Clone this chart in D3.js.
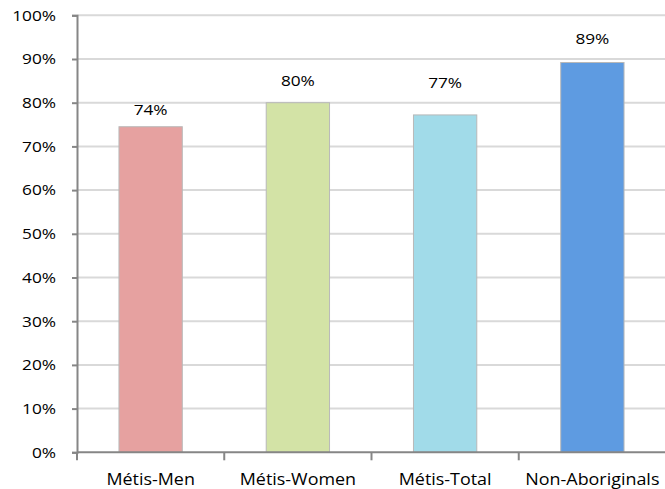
<!DOCTYPE html>
<html>
<head>
<meta charset="utf-8">
<script src="https://cdn.jsdelivr.net/npm/d3@7"></script>
<style>
  body { margin: 0; background: #fff; }
  svg { display: block; }
</style>
</head>
<body>
<div id="chart"></div>
<script>
// data
var categories = ["Métis-Men", "Métis-Women", "Métis-Total", "Non-Aboriginals"];
var values = [0.745, 0.80, 0.772, 0.892];
var valueLabels = ["74%", "80%", "77%", "89%"];
var yTicks = [0, 0.1, 0.2, 0.3, 0.4, 0.5, 0.6, 0.7, 0.8, 0.9, 1.0];
var barColors = ["#e6a1a0", "#d3e3a6", "#a1dbe9", "#5e9be1"];

// label lift above each bar (labels sit unevenly in the original)
var labelGap = [12, 17, 27, 18];

const chart = { width: 665, height: 489 };
const plot = { left: 77, right: 666, top: 15.3, bottom: 452.3 };

const svg = d3.select("#chart").append("svg")
    .attr("width", chart.width).attr("height", chart.height);

const x = d3.scaleBand()
    .domain(categories)
    .range([plot.left, plot.right])
    .paddingInner(0.57).paddingOuter(0.285);

const xEdges = d3.scaleBand().domain(categories).range([plot.left, plot.right]);

const y = d3.scaleLinear().domain([0, 1]).range([plot.bottom, plot.top]);

const font = "'Open Sans', 'Noto Sans', sans-serif";

// gridlines
svg.append("g")
    .selectAll("line").data(yTicks.slice(1)).enter().append("line")
    .attr("x1", plot.left).attr("x2", plot.right)
    .attr("y1", d => y(d)).attr("y2", d => y(d))
    .attr("stroke", "#d9d9d9").attr("stroke-width", 2);

// bars
svg.append("g")
    .selectAll("rect").data(values).enter().append("rect")
    .attr("x", (d, i) => x(categories[i]))
    .attr("y", d => y(d))
    .attr("width", x.bandwidth())
    .attr("height", d => plot.bottom - y(d))
    .attr("fill", (d, i) => barColors[i])
    .attr("stroke", "#b8b8b8").attr("stroke-width", 1);

// y axis
const yAxis = d3.axisLeft(y).tickValues(yTicks).tickSize(5)
    .tickFormat(d3.format(".0%"));
const yg = svg.append("g").attr("transform", "translate(" + plot.left + ",0)").call(yAxis);
yg.select(".domain").attr("stroke", "#868686").attr("stroke-width", 2);
yg.selectAll(".tick line").attr("stroke", "#868686").attr("stroke-width", 2);
yg.selectAll("text")
    .style("font-family", font).style("font-size", "15px").attr("fill", "#000")
    .attr("transform", "scale(1.15,1)")
    .attr("x", -21 / 1.15);

// x axis: ticks at band edges
const edges = categories.map(c => xEdges(c)).concat([plot.right]);
const xg = svg.append("g");
xg.append("line")
    .attr("x1", plot.left).attr("x2", plot.right)
    .attr("y1", plot.bottom).attr("y2", plot.bottom)
    .attr("stroke", "#868686").attr("stroke-width", 2);
xg.selectAll(".edge").data(edges).enter().append("line")
    .attr("class", "edge")
    .attr("x1", d => d).attr("x2", d => d)
    .attr("y1", plot.bottom).attr("y2", plot.bottom + 8)
    .attr("stroke", "#868686").attr("stroke-width", 2);

xg.selectAll(".cat").data(categories).enter().append("text")
    .attr("class", "cat")
    .attr("transform", d => "translate(" + (xEdges(d) + xEdges.bandwidth() / 2) + "," + 485 + ") scale(1.12,1)")
    .attr("text-anchor", "middle")
    .style("font-family", font).style("font-size", "16px").attr("fill", "#000")
    .text(d => d);

// value labels
svg.append("g")
    .selectAll("text").data(values).enter().append("text")
    .attr("transform", (d, i) => "translate(" + (x(categories[i]) + x.bandwidth() / 2) + "," + (y(d) - labelGap[i]) + ") scale(1.15,1)")
    .attr("text-anchor", "middle")
    .style("font-family", font).style("font-size", "15px").attr("fill", "#000")
    .text((d, i) => valueLabels[i]);
</script>
</body>
</html>
